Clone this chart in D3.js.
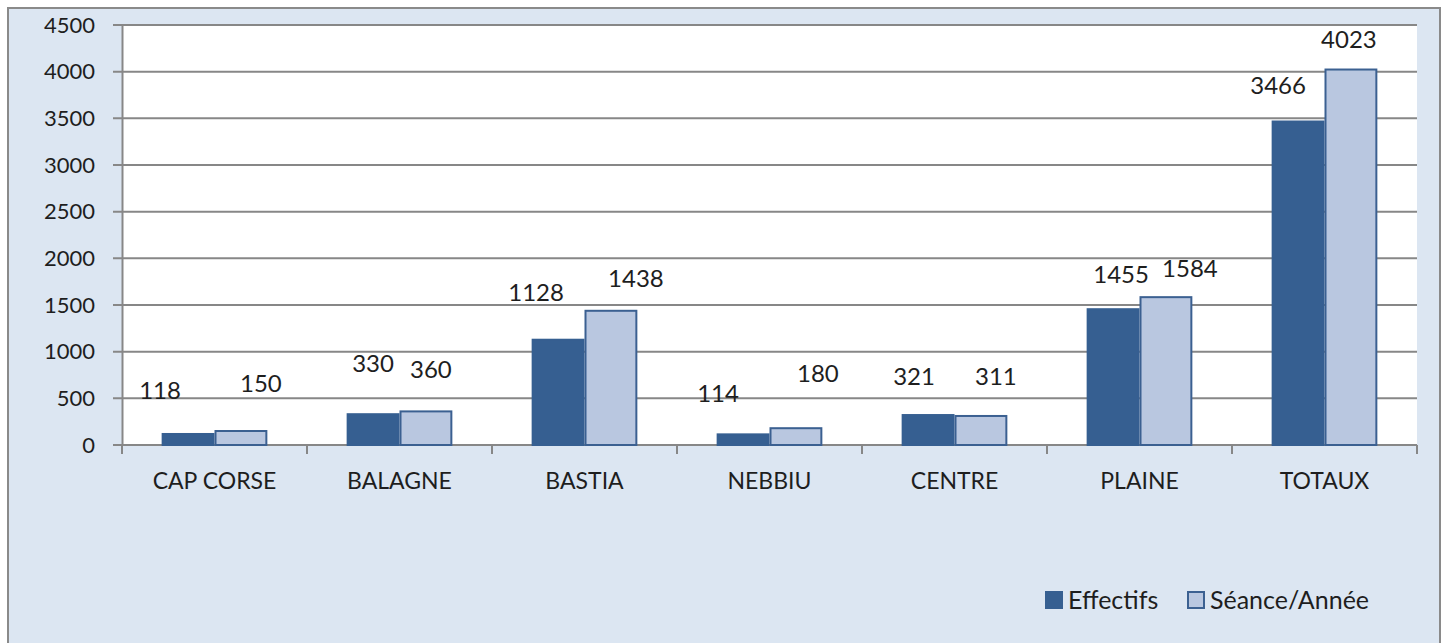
<!DOCTYPE html>
<html>
<head>
<meta charset="utf-8">
<script src="https://cdn.jsdelivr.net/npm/d3@7"></script>
<style>
  body { margin: 0; background: #fff; }
  text { font-family: Lato, "Open Sans", sans-serif; fill: #1e1e1e; }
</style>
</head>
<body>
<div id="chart-area"></div>
<script>
/*
*    chart
*/

var categories = ["CAP CORSE", "BALAGNE", "BASTIA", "NEBBIU", "CENTRE", "PLAINE", "TOTAUX"];
var seriesNames = ["Effectifs", "Séance/Année"];
var effectifs = [118, 330, 1128, 114, 321, 1455, 3466];
var seances = [150, 360, 1438, 180, 311, 1584, 4023];
var yTicks = [0, 500, 1000, 1500, 2000, 2500, 3000, 3500, 4000, 4500];

// label nudges (px) from the top centre of each bar, as placed in the original
var nudgeEffectifs = [[-28, -35], [0, -42], [-22, -39], [-25, -32], [-14, -30], [8, -26], [-20, -28]];
var nudgeSeances = [[20, -39], [5, -33], [25, -24], [22, -46], [15, -31], [24, -20], [-2, -22]];

var W = 1448, H = 643;
var colors = ["#365f91", "#b9c7e0"];
var strokes = ["#365f91", "#3b6091"];

var svg = d3.select("#chart-area").append("svg")
    .attr("width", W)
    .attr("height", H);

// chart frame
svg.append("rect")
    .attr("x", 8).attr("y", 8)
    .attr("width", 1432).attr("height", H)
    .attr("fill", "#dce6f2")
    .attr("stroke", "#8a8a8a")
    .attr("stroke-width", 2);

var pLeft = 122, pRight = 1417, pTop = 25, pBottom = 445;

svg.append("rect")
    .attr("x", pLeft).attr("y", pTop)
    .attr("width", pRight - pLeft).attr("height", pBottom - pTop)
    .attr("fill", "#fff");

var x = d3.scaleBand()
    .domain(categories)
    .range([pLeft, pRight])
    .paddingInner(0)
    .paddingOuter(0);

var xs = d3.scaleBand()
    .domain(seriesNames)
    .range([0, x.bandwidth()])
    .paddingInner(0)
    .paddingOuter(0.75);

var y = d3.scaleLinear()
    .domain([0, 4500])
    .range([pBottom, pTop]);

// gridlines
svg.append("g").selectAll("line")
    .data(yTicks)
    .enter().append("line")
        .attr("x1", pLeft - 9)
        .attr("x2", pRight)
        .attr("y1", (d) => y(d))
        .attr("y2", (d) => y(d))
        .attr("stroke", "#878787")
        .attr("stroke-width", 2);

// y axis
var yAxis = d3.axisLeft(y)
    .tickValues(yTicks)
    .tickSize(0)
    .tickPadding(27)
    .tickFormat(d3.format("d"));

var gy = svg.append("g")
    .attr("transform", "translate(" + pLeft + ",0)")
    .call(yAxis);
gy.select(".domain").attr("stroke", "#878787").attr("stroke-width", 2);
gy.selectAll("text")
    .style("font-size", "22px")
    .attr("fill", "#1e1e1e");

// x axis
var xAxis = d3.axisBottom(x)
    .tickSize(0)
    .tickPadding(28);

var gx = svg.append("g")
    .attr("transform", "translate(0," + pBottom + ")")
    .call(xAxis);
gx.select(".domain").remove();
gx.selectAll("text")
    .style("font-size", "23px")
    .attr("fill", "#1e1e1e");

var edges = categories.map((c) => x(c)).concat([pRight]);
svg.append("g").selectAll("line")
    .data(edges)
    .enter().append("line")
        .attr("x1", (d) => d)
        .attr("x2", (d) => d)
        .attr("y1", pBottom)
        .attr("y2", pBottom + 9)
        .attr("stroke", "#878787")
        .attr("stroke-width", 2);

// bars
var series = [
    { name: seriesNames[0], values: effectifs, nudge: nudgeEffectifs },
    { name: seriesNames[1], values: seances, nudge: nudgeSeances }
];

series.forEach((s, si) => {
    var g = svg.append("g");
    g.selectAll("rect")
        .data(s.values)
        .enter().append("rect")
            .attr("x", (d, i) => x(categories[i]) + xs(s.name) + 1)
            .attr("y", (d) => y(d))
            .attr("width", xs.bandwidth() - 2)
            .attr("height", (d) => pBottom - y(d))
            .attr("fill", colors[si])
            .attr("stroke", strokes[si])
            .attr("stroke-width", 2);

    g.selectAll("text")
        .data(s.values)
        .enter().append("text")
            .attr("x", (d, i) => x(categories[i]) + xs(s.name) + xs.bandwidth() / 2 + s.nudge[i][0])
            .attr("y", (d, i) => y(d) + s.nudge[i][1])
            .attr("text-anchor", "middle")
            .style("font-size", "24px")
            .text((d) => d);
});

// legend
var legend = svg.append("g")
    .attr("transform", "translate(1045,591)");

var legendX = [0, 142];
seriesNames.forEach((n, i) => {
    legend.append("rect")
        .attr("x", legendX[i] + 1)
        .attr("y", 1)
        .attr("width", 16)
        .attr("height", 16)
        .attr("fill", colors[i])
        .attr("stroke", strokes[i])
        .attr("stroke-width", 2);
    legend.append("text")
        .attr("x", legendX[i] + 23)
        .attr("y", 18)
        .style("font-size", "25px")
        .text(n);
});
</script>
</body>
</html>
